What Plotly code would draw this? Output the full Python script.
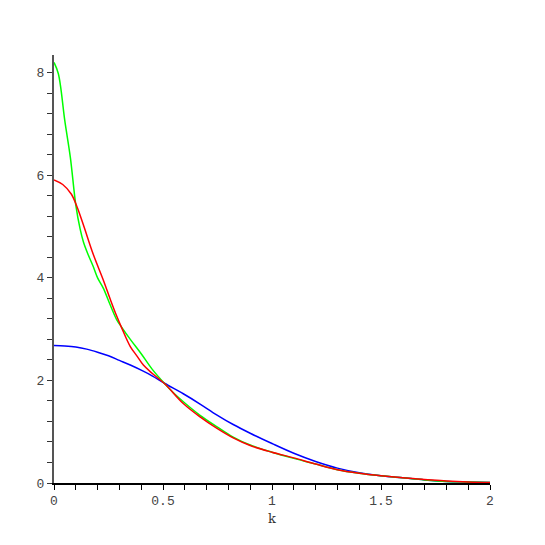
import plotly.graph_objects as go

# k values and curve values
k_red = [0, 0.04, 0.08, 0.105, 0.135, 0.18, 0.226, 0.26, 0.288, 0.31, 0.35, 0.38, 0.41, 0.45,
         0.509, 0.593, 0.67, 0.746, 0.822, 0.90, 1.0, 1.1, 1.2, 1.3, 1.4, 1.5, 1.6, 1.7, 1.8, 1.9, 2.0]
y_red = [5.91, 5.82, 5.63, 5.39, 5.03, 4.46, 3.96, 3.56, 3.25, 3.03, 2.66, 2.48, 2.30, 2.14,
         1.93, 1.55, 1.29, 1.07, 0.88, 0.73, 0.60, 0.49, 0.37, 0.26, 0.19, 0.14, 0.10, 0.07, 0.04, 0.02, 0.01]

k_green = [0, 0.02, 0.05, 0.075, 0.10, 0.12, 0.135, 0.155, 0.18, 0.20, 0.226, 0.26, 0.288, 0.31, 0.35,
           0.40, 0.45, 0.509, 0.55, 0.60, 0.67, 0.75, 0.82, 0.90, 1.0, 1.1, 1.2, 1.3, 1.4, 1.5, 1.6, 1.7,
           1.8, 1.9, 2.0]
y_green = [8.20, 7.98, 7.05, 6.35, 5.42, 4.95, 4.70, 4.47, 4.22, 4.00, 3.80, 3.45, 3.18, 3.04, 2.80,
           2.52, 2.22, 1.93, 1.75, 1.56, 1.32, 1.09, 0.90, 0.74, 0.60, 0.48, 0.37, 0.26, 0.19, 0.14, 0.10, 0.06,
           0.03, 0.02, 0.01]

k_blue = [0, 0.05, 0.10, 0.15, 0.20, 0.25, 0.30, 0.35, 0.40, 0.45, 0.509, 0.593, 0.67, 0.746, 0.822, 0.90,
          1.0, 1.1, 1.2, 1.3, 1.4, 1.5, 1.6, 1.7, 1.8, 1.9, 2.0]
y_blue = [2.68, 2.67, 2.65, 2.61, 2.55, 2.48, 2.39, 2.30, 2.20, 2.09, 1.94, 1.74, 1.54, 1.33, 1.14, 0.97,
          0.77, 0.58, 0.42, 0.29, 0.20, 0.14, 0.10, 0.06, 0.03, 0.02, 0.01]

fig = go.Figure()
fig.add_trace(go.Scatter(x=k_blue, y=y_blue, mode='lines', line=dict(color='#0000ff', width=1.5, shape='spline')))
fig.add_trace(go.Scatter(x=k_green, y=y_green, mode='lines', line=dict(color='#00ff00', width=1.5, shape='spline')))
fig.add_trace(go.Scatter(x=k_red, y=y_red, mode='lines', line=dict(color='#ff0000', width=1.5, shape='spline')))

tick_font = dict(family='Liberation Mono', size=13, color='#444')
fig.update_xaxes(
    range=[0, 2], showline=True, linecolor='black', linewidth=1.5,
    ticks='outside', ticklen=5, tickcolor='black', dtick=0.5, tick0=0,
    minor=dict(dtick=0.1, ticklen=5, tickcolor='black', ticks='outside', showgrid=False),
    showgrid=False, zeroline=False, tickfont=tick_font,
    title=dict(text='k', font=dict(family='DejaVu Serif', size=13, color='#333'), standoff=6),
)
fig.update_yaxes(
    range=[0, 8.345], showline=True, linecolor='#555', linewidth=2,
    ticks='outside', ticklen=5, tickcolor='#333', dtick=2, tick0=0,
    minor=dict(dtick=0.4, ticklen=5, tickcolor='#333', ticks='outside', showgrid=False),
    showgrid=False, zeroline=False, tickfont=tick_font,
)
# page body has an 8px margin, so shift the plot area up-left to compensate
fig.update_layout(
    width=545, height=545, showlegend=False,
    plot_bgcolor='white', paper_bgcolor='white',
    margin=dict(l=46, r=63, t=47, b=70),
)
fig.write_html("out.html")
